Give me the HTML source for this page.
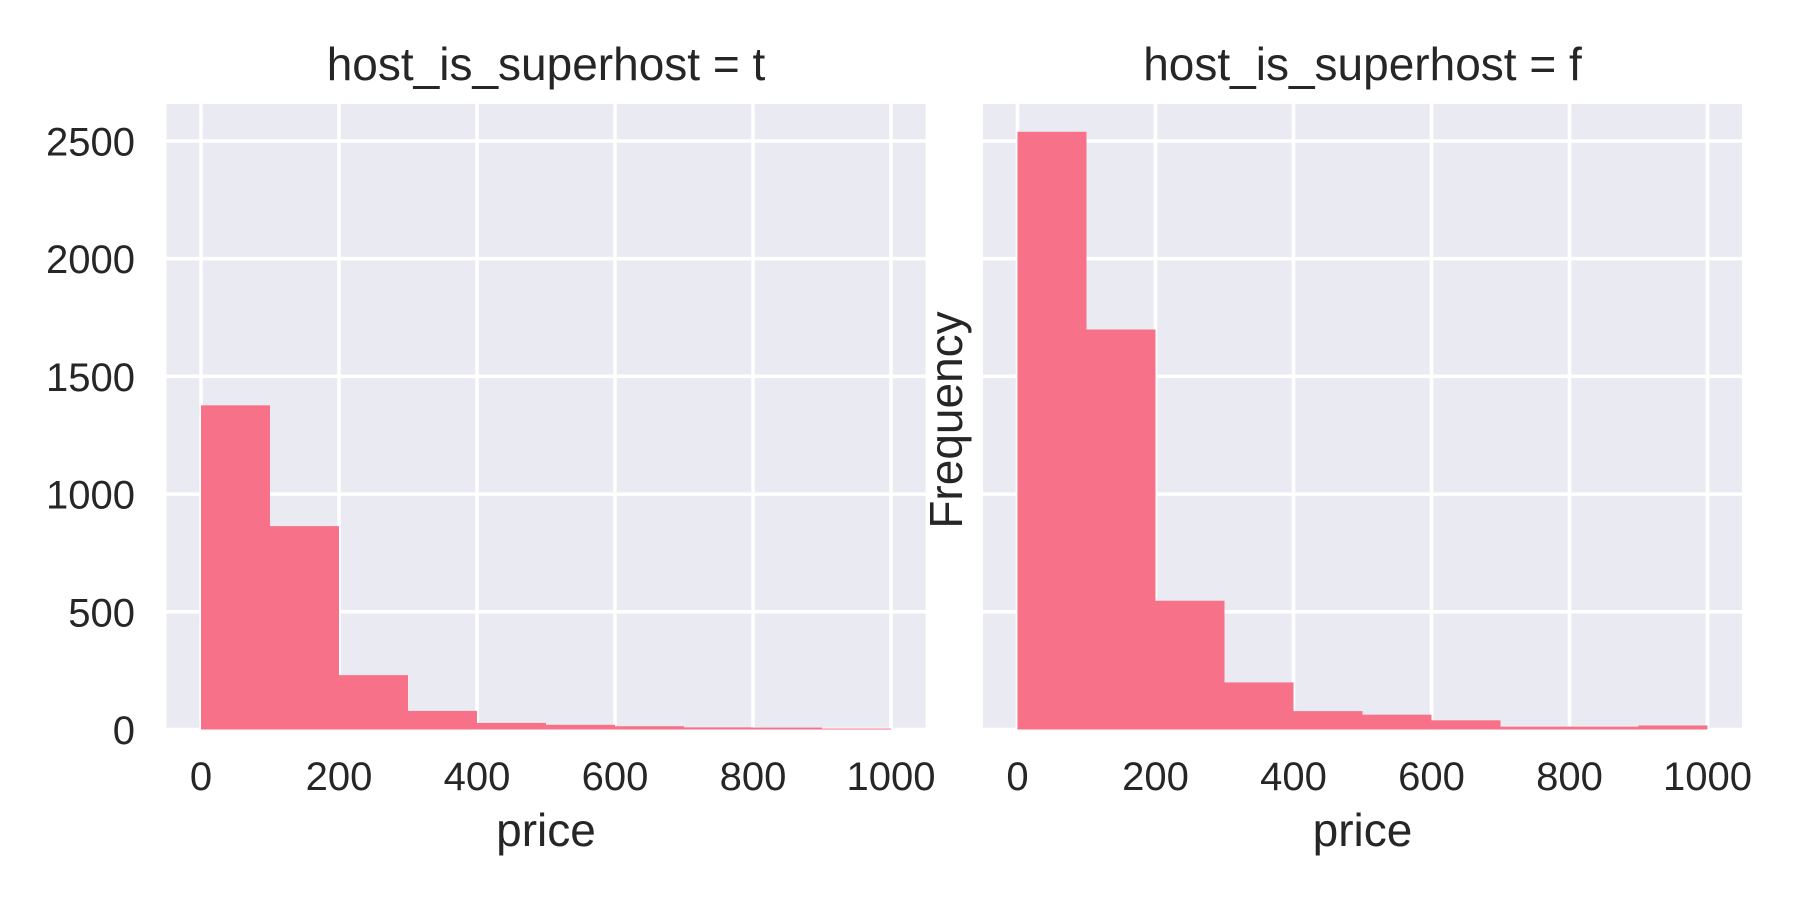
<!DOCTYPE html>
<html><head><meta charset="utf-8"><style>
html,body{margin:0;padding:0;background:#fff;}
svg{display:block;font-family:"Liberation Sans",Arial,sans-serif;}
</style></head>
<body>
<svg id="chart" width="1800" height="900" viewBox="0 0 1800 900" xmlns="http://www.w3.org/2000/svg"></svg>
<script>
const binEdges = [0,100,200,300,400,500,600,700,800,900,1000];
const superhostTrue = [1377,864,231,79,28,20,14,9,8,4];
const superhostFalse = [2539,1699,547,200,78,63,39,12,12,17];
const xTicks = [0,200,400,600,800,1000];
const yTicks = [0,500,1000,1500,2000,2500];
const panelTitles = ["host_is_superhost = t","host_is_superhost = f"];

const NS = "http://www.w3.org/2000/svg";
const svgEl = document.getElementById('chart');
function mk(tag, attrs, parent){
  const e = document.createElementNS(NS, tag);
  for (const k in attrs) e.setAttribute(k, attrs[k]);
  (parent||svgEl).appendChild(e);
  return e;
}
const xMin=-50, xMax=1050, yMin=0, yMax=2657;
const plotTop=104, plotBottom=729.5;
const panels=[{left:166.5,right:925.5,data:superhostTrue},{left:983,right:1742,data:superhostFalse}];

panels.forEach((p,pi)=>{
  const xs = v => p.left + (v - xMin)/(xMax-xMin)*(p.right-p.left);
  const ys = v => plotBottom - (v - yMin)/(yMax-yMin)*(plotBottom-plotTop);
  const g = mk('g',{});
  
  
  const bg = mk('rect',{x:p.left,y:plotTop,width:p.right-p.left,height:plotBottom-plotTop,fill:'#eaeaf2'},g);
  
  
  xTicks.forEach(t=>{
    const l = mk('line',{x1:xs(t),x2:xs(t),y1:plotTop,y2:plotBottom,stroke:'#fff','stroke-width':3.5},g);
    
    
    const tx = mk('text',{x:xs(t),y:790,'text-anchor':'middle','font-size':40,fill:'#262626'},g);
    
    
    tx.textContent = t;
  });
  yTicks.forEach(t=>{
    const l = mk('line',{x1:p.left,x2:p.right,y1:ys(t),y2:ys(t),stroke:'#fff','stroke-width':3.5},g);
    
    
    if(pi===0){
      const tx = mk('text',{x:135,y:ys(t)+14.5,'text-anchor':'end','font-size':40,fill:'#262626'},g);
      
      
      tx.textContent = t;
    }
  });
  p.data.forEach((v,i)=>{
    const x0=xs(binEdges[i]), x1=xs(binEdges[i+1]);
    const r = mk('rect',{x:x0,y:ys(v),width:x1-x0,height:ys(0)-ys(v),fill:'#f77189'},g);
    
    
  });
  const cx=(p.left+p.right)/2;
  const title = mk('text',{x:cx,y:80,'text-anchor':'middle','font-size':46,fill:'#262626'},g);
  
  
  title.textContent = panelTitles[pi];
  const xl = mk('text',{x:cx,y:846,'text-anchor':'middle','font-size':46,fill:'#262626'},g);
  
  
  xl.textContent = 'price';
});
const yl = mk('text',{x:962,y:420,'text-anchor':'middle','font-size':46,fill:'#262626',transform:'rotate(-90 962 420)'});


yl.textContent = 'Frequency';
</script>
</body></html>
